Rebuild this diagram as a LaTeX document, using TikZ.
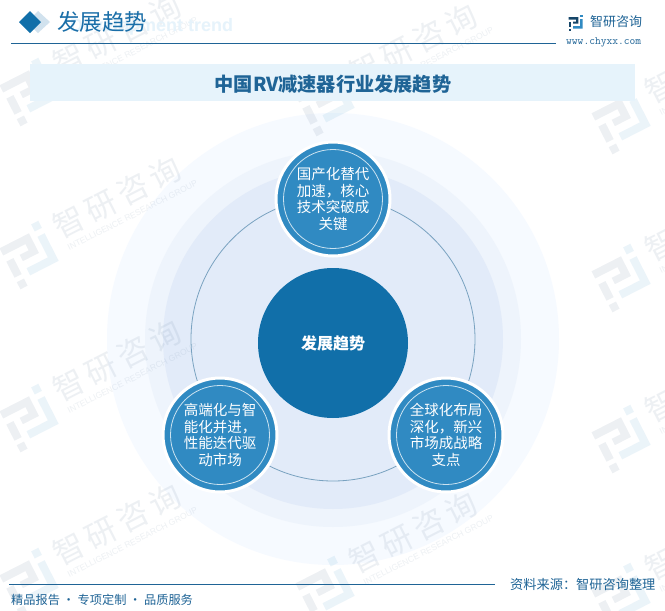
\documentclass[tikz,border=0pt]{standalone}
\usepackage{fontspec}
\setmainfont{Liberation Sans}
\newfontfamily\cjk{Noto Sans CJK SC}
\definecolor{headblue}{HTML}{1A6EA8}
\definecolor{deep}{HTML}{116FA9}
\definecolor{mid}{HTML}{308AC2}
\definecolor{rulec}{HTML}{1F6496}
\definecolor{band}{HTML}{E6F3FB}
\definecolor{ringa}{HTML}{F6FAFF}
\definecolor{ringb}{HTML}{EEF4FC}
\definecolor{ringc}{HTML}{E2EBF9}
\definecolor{wmgrey}{HTML}{5C7A98}
\definecolor{wmblue}{HTML}{4FA0D0}
\tikzset{
 x=1pt,y=-1pt,
 smalltxt/.style={font=\cjk\fontsize{14.5}{16.5}\selectfont,text=white,align=center,inner sep=0pt},
 smallcirc/.style={circle,fill=mid,draw=white,line width=3pt,minimum size=114pt,inner sep=0pt},
 foot/.style={font=\cjk\fontsize{13.2}{15}\selectfont,text=rulec,inner sep=0pt},
}
\newcommand{\logoshape}[2]{%
  \fill[#1] (-25,-18) -- (8,-18) -- (8,4) -- (-10,4) -- (-10,-3) -- (0,-3) -- (0,-10) -- (-25,-10) -- cycle;
  \fill[#1] (-25,-3) -- (-17,-3) -- (-17,15) -- (-25,15) -- cycle;
  \fill[#1] (-25,20) rectangle (-17,28);
  \fill[#2] (14,-25) rectangle (22,-17);
  \fill[#2] (14,-11) -- (22,-11) -- (22,20) -- (-10,20) -- (-10,12) -- (14,12) -- cycle;
}
\newcommand{\wm}[2]{%
 \begin{scope}[shift={(#1,#2)},rotate=27,transform shape,opacity=.11]
  \logoshape{wmgrey}{wmblue}
  \node[anchor=west,inner sep=0pt,font=\cjk\fontsize{31}{31}\selectfont,text=wmgrey] at (33,-10) {智\hspace{5pt}研\hspace{5pt}咨\hspace{5pt}询};
  \node[anchor=west,inner sep=0pt,font=\fontsize{8.5}{8.5}\selectfont,text=wmgrey] at (36,13) {INTELLIGENCE RESEARCH GROUP};
 \end{scope}}
\begin{document}
\begin{tikzpicture}
\useasboundingbox (0,0) rectangle (665,611);
\fill[white] (0,0) rectangle (665,611);
% rings
\fill[ringa] (333,339) circle (226);
\fill[ringb] (333,339) circle (188);
\fill[ringc] (333,339) circle (170);
\draw[color=rulec!60!white,line width=.8pt] (333,339) circle (142);
% watermarks
\wm{30}{90}\wm{30}{253}\wm{30}{416}\wm{30}{580}
\wm{326}{100}\wm{326}{588}
\wm{622}{118}\wm{622}{276}\wm{622}{437}\wm{622}{595}
% title
\fill[headblue!20] (27,22) -- (38,11) -- (50,22) -- (38,33) -- cycle;
\fill[deep] (19,22) -- (30,11) -- (41,22) -- (30,33) -- cycle;
\node[anchor=west,inner sep=0pt,font=\bfseries\fontsize{18}{18}\selectfont,text=band] at (70,27) {Development trend};
\node[anchor=west,inner sep=0pt,font=\cjk\fontsize{22.5}{22.5}\selectfont,text=headblue] (head) at (57,22) {发展趋势};
\coordinate (ruleL) at (11,43.5);
\coordinate (ruleR) at (556,43.5);
\draw[rulec,line width=.9pt] (ruleL) -- (ruleR);
\fill[band] (30,64) rectangle (635,101);
\node[font=\cjk\bfseries\fontsize{19.2}{19.2}\selectfont,text=rulec,inner sep=0pt] (title) at (333,84) {中国RV减速器行业发展趋势};
% logo
\begin{scope}[shift={(576,22.5)},scale=.3]
 \logoshape{rulec!70!black}{mid}
\end{scope}
\node[anchor=west,inner sep=0pt,font=\cjk\fontsize{13}{13}\selectfont,text=rulec] (brand) at (590,22) {智研咨询};
\node[anchor=west,inner sep=0pt,font=\ttfamily\fontsize{11.2}{11.2}\selectfont,text=rulec] (url) at (566,42) {www.chyxx.com};
% central
\node[circle,fill=deep,minimum size=150pt,inner sep=0pt,font=\cjk\bfseries\fontsize{16}{16}\selectfont,text=white] (c) at (333,343) {发展趋势};
\node[smallcirc] (a) at (333,199) {};
\draw[white!75!mid,line width=.8pt] (a) circle (49.5);
\node[smalltxt] at (a) {国产化替代\\加速，核心\\技术突破成\\关键};
\node[smallcirc] (b) at (220,435) {};
\draw[white!75!mid,line width=.8pt] (b) circle (49.5);
\node[smalltxt] at (b) {高端化与智\\能化并进，\\性能迭代驱\\动市场};
\node[smallcirc] (d) at (446,435) {};
\draw[white!75!mid,line width=.8pt] (d) circle (49.5);
\node[smalltxt] at (d) {全球化布局\\深化，新兴\\市场成战略\\支点};
% footer
\coordinate (fl) at (9,584);
\coordinate (fr) at (495,584);
\draw[rulec,line width=.9pt] (fl) -- (fr);
\node[foot,anchor=west] (src) at (510,585) {资料来源：智研咨询整理};
\node[foot,anchor=west,font=\cjk\fontsize{12.2}{14}\selectfont] (slog) at (11,599.5) {精品报告 · 专项定制 · 品质服务};
\end{tikzpicture}
\end{document}
